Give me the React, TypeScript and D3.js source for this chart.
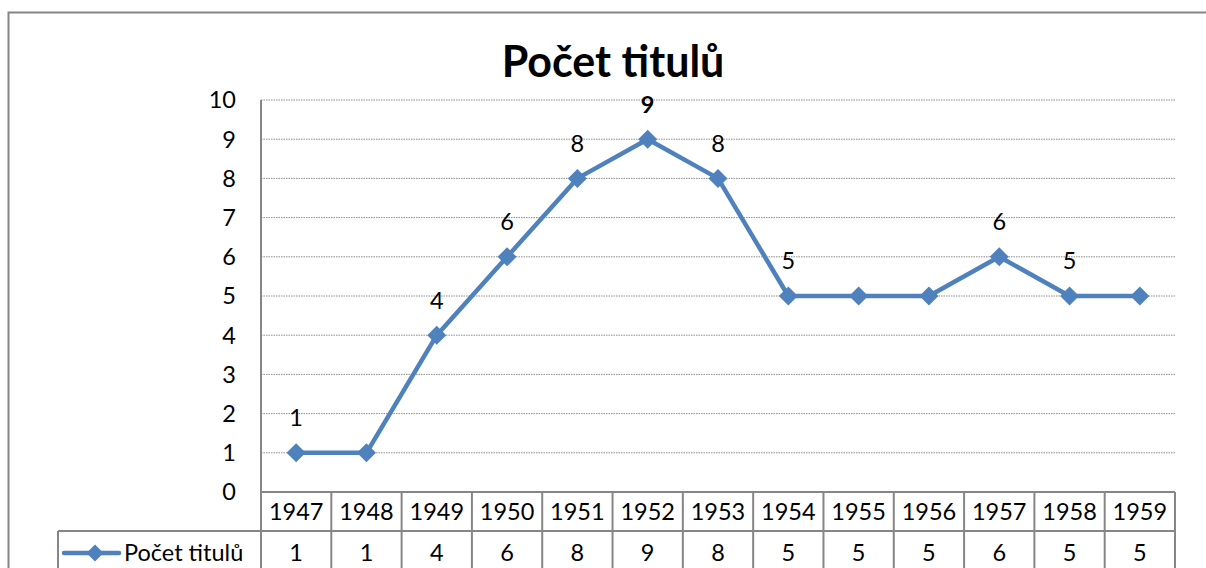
import React from 'react';
import * as d3 from 'd3';

const years = ['1947', '1948', '1949', '1950', '1951', '1952', '1953', '1954', '1955', '1956', '1957', '1958', '1959'];
const counts = [1, 1, 4, 6, 8, 9, 8, 5, 5, 5, 6, 5, 5];
// which points carry a data label in the original (1952 one is bold)
const labelShown = [true, false, true, true, true, true, true, true, false, false, true, true, false];
const labelBold = [false, false, false, false, false, true, false, false, false, false, false, false, false];
const yTicks = [0, 1, 2, 3, 4, 5, 6, 7, 8, 9, 10];
const seriesName = 'Počet titulů';
const title = 'Počet titulů';

const width = 1206;
const height = 568;
const font = 'Lato, "Open Sans", sans-serif';
const blue = '#4F81BD';
const gray = '#868686';
const fs = 23.5;

const App: React.FC = () => {
  // plot area
  const left = 261;
  const right = 1175;
  const top = 100;
  const bottom = 492;

  const x = d3.scaleBand<string>().domain(years).range([left, right]).padding(0);
  const y = d3.scaleLinear().domain([0, 10]).range([bottom, top]);

  const cx = (d: string) => (x(d) ?? 0) + x.bandwidth() / 2;

  const line = d3
    .line<number>()
    .x((_, i) => cx(years[i]))
    .y((d) => y(d));

  const diamond = (px: number, py: number, r: number) =>
    `M${px},${py - r}L${px + r},${py}L${px},${py + r}L${px - r},${py}Z`;

  // data table geometry
  const rowH = 39;
  const row1Top = bottom;
  const row2Top = bottom + rowH;
  const legendLeft = 58;

  return (
    <svg
      width={width}
      height={height}
      style={{ position: 'absolute', left: 0, top: 0, display: 'block', background: '#fff' }}
      fontFamily={font}
    >
      {/* chart border (right and bottom edges fall outside the frame) */}
      <rect x={8.5} y={12.5} width={1230} height={600} fill="#fff" stroke={gray} strokeWidth={2} />

      {/* title */}
      <text x={613} y={77} textAnchor="middle" fontSize={43} fontWeight="bold" fill="#000">
        {title}
      </text>

      {/* gridlines */}
      {yTicks
        .filter((t) => t > 0)
        .map((t) => (
          <line
            key={t}
            x1={left}
            x2={right}
            y1={y(t)}
            y2={y(t)}
            stroke="#8c8c8c"
            strokeWidth={1}
            strokeDasharray="1.5 1"
          />
        ))}

      {/* y axis */}
      <line x1={left} x2={left} y1={top} y2={bottom} stroke={gray} strokeWidth={2} />
      {yTicks.map((t) => (
        <text key={t} x={236} y={y(t)} dy="0.36em" textAnchor="end" fontSize={fs} fill="#000">
          {t}
        </text>
      ))}

      {/* data table */}
      <g stroke={gray} strokeWidth={2} fill="none">
        <line x1={left} x2={right} y1={row1Top} y2={row1Top} />
        <line x1={legendLeft} x2={right} y1={row2Top} y2={row2Top} />
        <line x1={legendLeft} x2={legendLeft} y1={row2Top} y2={height + 5} />
        {years.map((yr) => (
          <line key={yr} x1={x(yr)} x2={x(yr)} y1={row1Top} y2={height + 5} />
        ))}
        <line x1={right} x2={right} y1={row1Top} y2={height + 5} />
      </g>
      {years.map((yr, i) => (
        <g key={yr}>
          <text x={cx(yr)} y={row1Top + rowH / 2} dy="0.36em" textAnchor="middle" fontSize={fs}>
            {yr}
          </text>
          <text x={cx(yr)} y={row2Top + rowH / 2 + 2} dy="0.36em" textAnchor="middle" fontSize={fs}>
            {counts[i]}
          </text>
        </g>
      ))}

      {/* legend key in table */}
      <line x1={64} x2={119} y1={row2Top + 22} y2={row2Top + 22} stroke={blue} strokeWidth={4.5} strokeLinecap="round" />
      <path d={diamond(95, row2Top + 22, 8.5)} fill={blue} />
      <text x={124} y={row2Top + rowH / 2 + 2} dy="0.36em" fontSize={fs}>
        {seriesName}
      </text>

      {/* series */}
      <path d={line(counts) ?? ''} fill="none" stroke={blue} strokeWidth={4.5} strokeLinejoin="round" />
      {counts.map((v, i) => (
        <path key={years[i]} d={diamond(cx(years[i]), y(v), 9.5)} fill={blue} />
      ))}

      {/* data labels */}
      {counts.map((v, i) =>
        labelShown[i] ? (
          <text
            key={years[i]}
            x={cx(years[i])}
            y={y(v) - 35}
            dy="0.36em"
            textAnchor="middle"
            fontSize={fs}
            fontWeight={labelBold[i] ? 'bold' : 'normal'}
          >
            {v}
          </text>
        ) : null
      )}
    </svg>
  );
};

export default App;
